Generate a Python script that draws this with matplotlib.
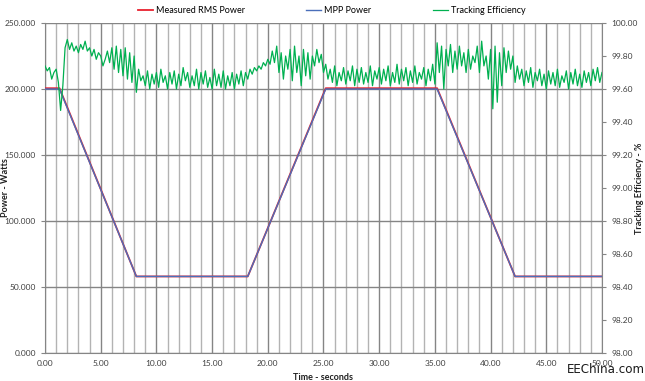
import numpy as np
import matplotlib
matplotlib.use('Agg')
import matplotlib.pyplot as plt
from matplotlib.ticker import MultipleLocator, FormatStrFormatter

# Datos del gráfico
# Potencia (breakpoints de la rampa)
power_time = [0.0, 1.3, 8.2, 18.2, 25.2, 35.2, 42.2, 50.0]
mpp_power = [200.0, 200.0, 58.0, 58.0, 200.0, 200.0, 58.0, 58.0]
measured_power = [200.6, 200.6, 58.0, 58.0, 200.6, 200.6, 58.0, 58.0]

# Eficiencia de seguimiento, muestreada cada 0.2 s (0 .. 50 s)
eff_step = 0.2
tracking_eff = [
    99.74, 99.71, 99.73, 99.66, 99.70,
    99.72, 99.64, 99.47, 99.62, 99.85,
    99.90, 99.84, 99.88, 99.83, 99.86,
    99.82, 99.87, 99.84, 99.89, 99.83,
    99.85, 99.80, 99.84, 99.78, 99.82,
    99.80, 99.74, 99.78, 99.83, 99.76,
    99.85, 99.72, 99.86, 99.70, 99.84,
    99.68, 99.85, 99.66, 99.82, 99.64,
    99.80, 99.58, 99.72, 99.65, 99.68,
    99.62, 99.71, 99.60, 99.69, 99.63,
    99.70, 99.61, 99.72, 99.64, 99.68,
    99.60, 99.70, 99.63, 99.71, 99.60,
    99.69, 99.62, 99.73, 99.65, 99.70,
    99.61, 99.68, 99.62, 99.72, 99.60,
    99.70, 99.63, 99.71, 99.61, 99.67,
    99.60, 99.72, 99.62, 99.69, 99.61,
    99.71, 99.60, 99.68, 99.62, 99.70,
    99.60, 99.69, 99.63, 99.71, 99.62,
    99.70, 99.66, 99.72, 99.69, 99.73,
    99.71, 99.74, 99.72, 99.76, 99.74,
    99.78, 99.75, 99.83, 99.76, 99.86,
    99.70, 99.82, 99.66, 99.80, 99.72,
    99.84, 99.65, 99.86, 99.70, 99.80,
    99.62, 99.84, 99.68, 99.82, 99.66,
    99.80, 99.74, 99.84, 99.76, 99.81,
    99.70, 99.75, 99.66, 99.72, 99.64,
    99.74, 99.62, 99.70, 99.65, 99.73,
    99.63, 99.71, 99.65, 99.74, 99.62,
    99.72, 99.64, 99.73, 99.63, 99.70,
    99.64, 99.74, 99.62, 99.71, 99.66,
    99.73, 99.63, 99.72, 99.65, 99.74,
    99.62, 99.70, 99.64, 99.75, 99.63,
    99.72, 99.65, 99.73, 99.62, 99.71,
    99.64, 99.74, 99.63, 99.70, 99.66,
    99.73, 99.62, 99.72, 99.65, 99.75,
    99.63, 99.88, 99.70, 99.86, 99.60,
    99.84, 99.74, 99.87, 99.70, 99.83,
    99.72, 99.86, 99.74, 99.82, 99.70,
    99.84, 99.72, 99.80, 99.76, 99.86,
    99.70, 99.89, 99.74, 99.80, 99.66,
    99.84, 99.48, 99.86, 99.52, 99.82,
    99.62, 99.85, 99.70, 99.83, 99.72,
    99.80, 99.64, 99.74, 99.66, 99.72,
    99.62, 99.71, 99.64, 99.73, 99.61,
    99.70, 99.65, 99.72, 99.62, 99.69,
    99.60, 99.71, 99.63, 99.70, 99.62,
    99.72, 99.61, 99.68, 99.64, 99.71,
    99.60, 99.70, 99.63, 99.72, 99.62,
    99.69, 99.61, 99.71, 99.64, 99.70,
    99.62, 99.72, 99.65, 99.73, 99.64,
    99.70,
]
eff_time = np.arange(len(tracking_eff)) * eff_step

plt.rcParams['font.family'] = ['Lato', 'DejaVu Sans']

fig = plt.figure(figsize=(6.45, 3.81), dpi=100)
ax = fig.add_axes([0.0698, 0.0735, 0.8635, 0.8661])
ax2 = ax.twinx()

# Rejilla
ax.set_xlim(0, 50)
ax.set_ylim(0, 250)
ax.xaxis.set_major_locator(MultipleLocator(5))
ax.xaxis.set_minor_locator(MultipleLocator(1))
ax.yaxis.set_major_locator(MultipleLocator(50))
ax.xaxis.set_major_formatter(FormatStrFormatter('%.2f'))
ax.yaxis.set_major_formatter(FormatStrFormatter('%.3f'))
ax.grid(which='major', axis='both', color='#858585', linewidth=1.0)
ax.grid(which='minor', axis='x', color='#b3b3b3', linewidth=1.0)
ax.set_axisbelow(True)

# Líneas de potencia
l1, = ax.plot(power_time, measured_power, color='#e8212e', linewidth=1.3,
              label='Measured RMS Power', zorder=3)
l2, = ax.plot(power_time, mpp_power, color='#4a6fba', linewidth=1.0,
              label='MPP Power', zorder=4)

# Eficiencia
ax2.set_ylim(98.0, 100.0)
ax2.yaxis.set_major_locator(MultipleLocator(0.2))
ax2.yaxis.set_major_formatter(FormatStrFormatter('%.2f'))
l3, = ax2.plot(eff_time, tracking_eff, color='#00b050', linewidth=0.9,
               label='Tracking Efficiency')

for a in (ax, ax2):
    for s in a.spines.values():
        s.set_visible(False)
ax.spines['left'].set_visible(True)
ax.spines['left'].set_color('#858585')
ax.spines['bottom'].set_visible(True)
ax.spines['bottom'].set_color('#858585')
ax2.spines['right'].set_visible(True)
ax2.spines['right'].set_color('#858585')

ax.tick_params(axis='both', which='both', labelsize=6, colors='#858585',
               labelcolor='#404040', length=3)
ax.tick_params(axis='x', which='minor', length=0)
ax.tick_params(axis='x', which='major', length=0, pad=5)
ax2.tick_params(axis='y', labelsize=6, colors='#858585', labelcolor='#404040',
                length=3)

ax.set_xlabel('Time - seconds', fontsize=6.5, fontweight='bold', color='#202020')
ax.xaxis.set_label_coords(0.5, -0.062)
ax.set_ylabel('Power - Watts', fontsize=6.5, fontweight='bold', color='#202020')
ax.yaxis.set_label_coords(-0.062, 0.5)
ax2.set_ylabel('Tracking Efficiency - %', fontsize=6.5, fontweight='bold',
               color='#202020')
ax2.yaxis.set_label_coords(1.06, 0.5)

fig.legend(handles=[l1, l2, l3], loc='upper center', bbox_to_anchor=(0.514, 1.005),
           ncol=3, frameon=False, fontsize=6.5, handlelength=1.7,
           columnspacing=6.8, handletextpad=0.3)

fig.text(0.879, 0.022, 'EEChina.com', fontsize=8.6, color='#1a1a1a',
         family='DejaVu Sans')

fig.savefig('out.png', dpi=100)
